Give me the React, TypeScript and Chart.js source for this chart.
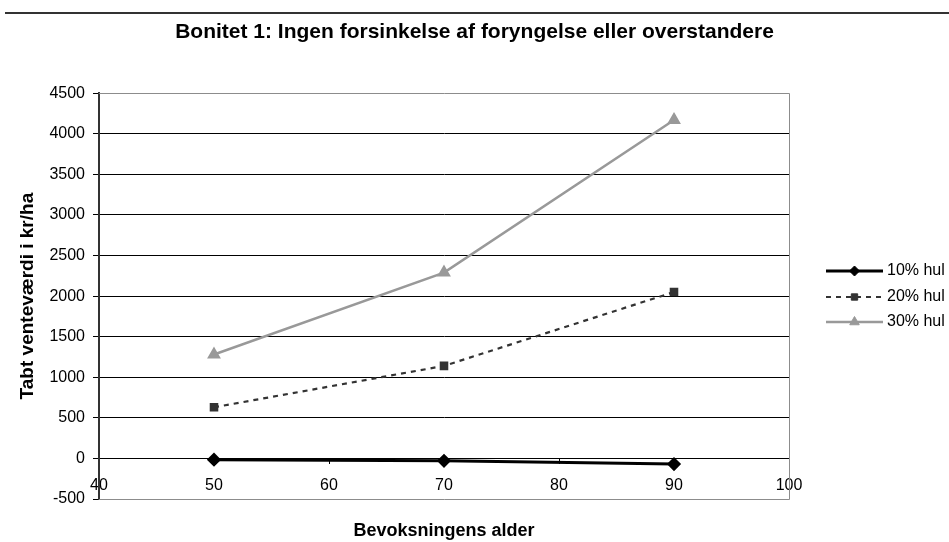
import React, { useEffect, useRef } from 'react';
import { Chart, registerables } from 'chart.js';
import { drawPoint } from 'chart.js/helpers';

Chart.register(...registerables);

// ---- data ----
const ages = [50, 70, 90];
const hul10 = [-15, -30, -70];
const hul20 = [630, 1140, 2050];
const hul30 = [1280, 2290, 4170];
const seriesLabels = ['10% hul', '20% hul', '30% hul'];
const titleText = 'Bonitet 1: Ingen forsinkelse af foryngelse eller overstandere';
const yTitleText = 'Tabt venteværdi i kr/ha';
const xTitleText = 'Bevoksningens alder';
const xMin = 40;
const xMax = 100;
const xStep = 10;
const yMin = -500;
const yMax = 4500;
const yStep = 500;

const FONT = "'Liberation Sans', Arial, sans-serif";

const toPoints = (vals: number[]) => vals.map((v, i) => ({ x: ages[i], y: v }));

const pagePlugin = {
  id: 'pageDecor',
  beforeDraw(chart: any) {
    const { ctx, width, height } = chart;
    ctx.save();
    ctx.fillStyle = '#fff';
    ctx.fillRect(0, 0, width, height);
    ctx.strokeStyle = '#333';
    ctx.lineWidth = 2;
    ctx.beginPath();
    ctx.moveTo(5, 13);
    ctx.lineTo(width, 13);
    ctx.stroke();
    ctx.restore();
  },
  beforeDatasetsDraw(chart: any) {
    const { ctx, chartArea: a } = chart;
    ctx.save();
    ctx.strokeStyle = '#8c8c8c';
    ctx.lineWidth = 1;
    ctx.beginPath();
    ctx.moveTo(a.left, Math.round(a.top) + 0.5);
    ctx.lineTo(Math.round(a.right) + 0.5, Math.round(a.top) + 0.5);
    ctx.lineTo(Math.round(a.right) + 0.5, Math.round(a.bottom) + 0.5);
    ctx.lineTo(a.left, Math.round(a.bottom) + 0.5);
    ctx.stroke();
    ctx.restore();
  },
  afterDraw(chart: any) {
    const { ctx } = chart;
    const x0 = 826;
    const x1 = 883;
    const tx = 887;
    const y0 = 271;
    const dy = 25.5;
    chart.data.datasets.forEach((ds: any, i: number) => {
      const y = Math.round(y0 + i * dy);
      ctx.save();
      ctx.strokeStyle = ds.borderColor;
      ctx.lineWidth = ds.borderWidth;
      ctx.setLineDash(ds.borderDash || []);
      ctx.beginPath();
      ctx.moveTo(x0, y);
      ctx.lineTo(x1, y);
      ctx.stroke();
      ctx.setLineDash([]);
      ctx.fillStyle = ds.pointBackgroundColor;
      ctx.strokeStyle = ds.pointBorderColor;
      ctx.lineWidth = 1;
      drawPoint(ctx, { pointStyle: ds.pointStyle, radius: ds.pointRadius, rotation: 0, borderWidth: 1 } as any, (x0 + x1) / 2, y);
      ctx.fillStyle = '#000';
      ctx.font = `16px ${FONT}`;
      ctx.textBaseline = 'middle';
      ctx.textAlign = 'left';
      ctx.fillText(ds.label, tx, y);
      ctx.restore();
    });
  },
};

export default function App() {
  const ref = useRef<HTMLCanvasElement>(null);
  useEffect(() => {
    document.body.style.margin = '0';
    if (!ref.current) return;
    Chart.defaults.font.family = FONT;
    Chart.defaults.color = '#000';
    const chart = new Chart(ref.current, {
      type: 'line',
      data: {
        datasets: [
          {
            label: seriesLabels[0],
            data: toPoints(hul10),
            borderColor: '#000',
            backgroundColor: '#000',
            borderWidth: 3,
            pointStyle: 'rectRot',
            pointRadius: 5,
            pointBackgroundColor: '#000',
            pointBorderColor: '#000',
            tension: 0,
          },
          {
            label: seriesLabels[1],
            data: toPoints(hul20),
            borderColor: '#333',
            backgroundColor: '#333',
            borderWidth: 2.2,
            borderDash: [5, 5],
            pointStyle: 'rect',
            pointRadius: 4.5,
            pointBackgroundColor: '#333',
            pointBorderColor: '#333',
            tension: 0,
          },
          {
            label: seriesLabels[2],
            data: toPoints(hul30),
            borderColor: '#999',
            backgroundColor: '#999',
            borderWidth: 2.5,
            pointStyle: 'triangle',
            pointRadius: 5.5,
            pointBackgroundColor: '#999',
            pointBorderColor: '#999',
            tension: 0,
          },
        ] as any,
      },
      options: {
        animation: false,
        responsive: false,
        devicePixelRatio: 1,
        layout: { padding: { left: 0, right: 0, top: 0, bottom: 43 } },
        plugins: {
          legend: { display: false },
          tooltip: { enabled: false },
          title: {
            display: true,
            text: titleText,
            color: '#000',
            font: { size: 21, weight: 'bold', family: FONT },
            padding: { top: 20, bottom: 48 },
          },
        },
        scales: {
          x: {
            type: 'linear',
            position: { y: 0 } as any,
            min: xMin,
            max: xMax,
            ticks: { stepSize: xStep, autoSkip: false, padding: 13, color: '#000', font: { size: 16 }, callback: (v: any) => String(v) },
            grid: { display: true, drawOnChartArea: false, drawTicks: true, tickLength: 5, tickColor: '#000' },
            border: { display: true, color: '#000', width: 1 },
            title: {
              display: true,
              text: xTitleText,
              color: '#000',
              font: { size: 18, weight: 'bold' },
              padding: { top: 12, bottom: 0 },
            },
          },
          y: {
            type: 'linear',
            position: 'left',
            min: yMin,
            max: yMax,
            ticks: { stepSize: yStep, padding: 8, color: '#000', font: { size: 16 }, callback: (v: any) => String(v) },
            grid: {
              color: (c: any) =>
                c.tick && (c.tick.value === yMax || c.tick.value === yMin) ? 'rgba(0,0,0,0)' : '#000',
              tickColor: '#000',
              tickLength: 6,
              lineWidth: 1,
            },
            border: { color: '#333', width: 2 },
            title: {
              display: true,
              text: yTitleText,
              color: '#000',
              font: { size: 19, weight: 'bold' },
              padding: { top: 16, bottom: 0 },
            },
            afterFit: (s: any) => {
              s.width = 99;
            },
          },
          legendSpace: {
            type: 'linear',
            position: 'right',
            display: true,
            ticks: { display: false },
            grid: { display: false, drawTicks: false },
            border: { display: false },
            title: { display: false },
            afterFit: (s: any) => {
              s.width = 160;
            },
          },
        },
      } as any,
      plugins: [pagePlugin],
    });
    return () => chart.destroy();
  }, []);
  return (
    <div style={{ position: 'absolute', left: 0, top: 0, width: 949, height: 542 }}>
      <canvas ref={ref} width={949} height={542} />
    </div>
  );
}
